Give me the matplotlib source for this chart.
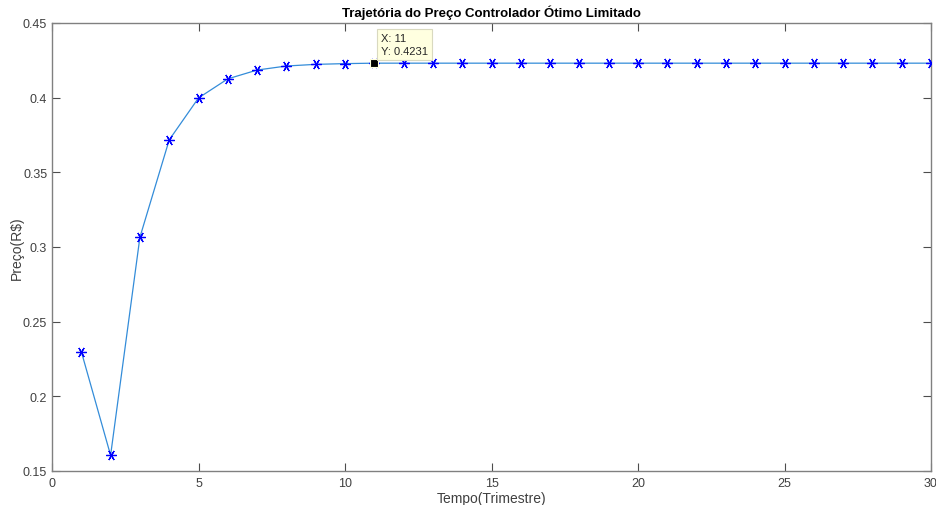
import matplotlib
matplotlib.use("Agg")
import matplotlib.pyplot as plt
import numpy as np

# Price trajectory of the bounded optimal controller, per quarter
tempo = list(range(1, 31))
preco = [0.2300, 0.1605, 0.3065, 0.3717, 0.3998, 0.4126, 0.4185, 0.4212,
         0.4223, 0.4228, 0.4231, 0.4231, 0.4231, 0.4231, 0.4231, 0.4231,
         0.4231, 0.4231, 0.4231, 0.4231, 0.4231, 0.4231, 0.4231, 0.4231,
         0.4231, 0.4231, 0.4231, 0.4231, 0.4231, 0.4231]
x_ticks = [0, 5, 10, 15, 20, 25, 30]
y_ticks = [0.15, 0.2, 0.25, 0.3, 0.35, 0.4, 0.45]
y_labels = ["0.15", "0.2", "0.25", "0.3", "0.35", "0.4", "0.45"]
tip_index = 10  # data tip on the 11th quarter

plt.rcParams['font.family'] = ['Liberation Sans', 'DejaVu Sans']

fig = plt.figure(figsize=(9.36, 5.06), dpi=100)
ax = fig.add_axes([52 / 936, 34 / 506, 879 / 936, 448 / 506])

ax.plot(tempo, preco, color=(0.2, 0.55, 0.85), linewidth=0.9, zorder=2)
ax.plot(tempo, preco, linestyle='none', marker=(6, 2, 90), markersize=7.5,
        markeredgecolor=(0, 0, 1), markeredgewidth=0.9, zorder=3)

# Data tip
tx, ty = tempo[tip_index], preco[tip_index]
ax.plot([tx], [ty], marker='s', markersize=6, color='black',
        markeredgecolor=(1, 1, 0.88), markeredgewidth=0.8, zorder=5)
ax.annotate(f"X: {tx}\nY: {ty:.4f}", xy=(tx, ty), xytext=(5, 5),
            textcoords='offset points', ha='left', va='bottom',
            fontsize=8, color=(0.15, 0.15, 0.15), linespacing=1.4,
            bbox=dict(boxstyle='square,pad=0.35', facecolor=(1, 1, 0.88),
                      edgecolor=(0.85, 0.85, 0.75), linewidth=0.8),
            zorder=6)

ax.set_xlim(0, 30)
ax.set_ylim(0.15, 0.45)
ax.set_xticks(x_ticks)
ax.set_yticks(y_ticks)
ax.set_yticklabels(y_labels)

axis_color = (0.25, 0.25, 0.25)
for s in ax.spines.values():
    s.set_color((0.5, 0.5, 0.5))
    s.set_linewidth(1.0)
ax.tick_params(direction='in', length=6, width=0.8, colors=(0.3, 0.3, 0.3),
               labelcolor=axis_color, labelsize=9, top=True, right=True)
ax.tick_params(axis='x', pad=4)

ax.set_title("Trajetória do Preço Controlador Ótimo Limitado",
             fontsize=9.5, fontweight='bold', color='black', pad=5)
ax.set_xlabel("Tempo(Trimestre)", fontsize=10, color=axis_color, labelpad=2)
ax.set_ylabel("Preço(R$)", fontsize=10, color=axis_color)
ax.yaxis.set_label_coords(-0.032, 0.5)

fig.savefig("out.png", dpi=100)
